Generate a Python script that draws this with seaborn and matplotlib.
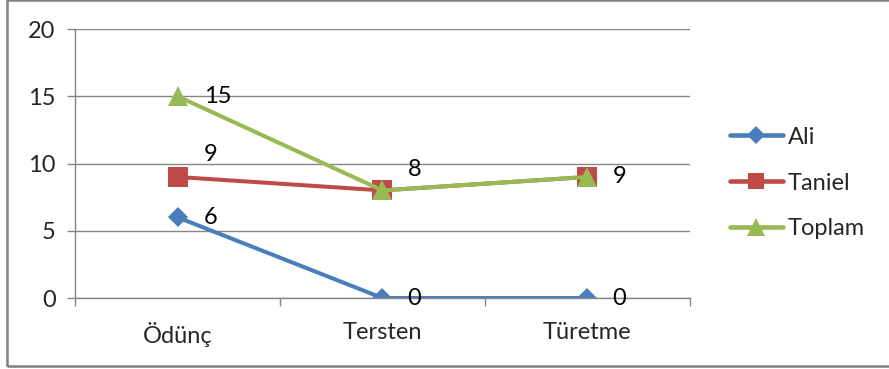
import matplotlib
matplotlib.use("Agg")
import matplotlib.pyplot as plt
import seaborn as sns
import pandas as pd
from matplotlib.lines import Line2D
from matplotlib.patches import Rectangle

categories = ["Ödünç", "Tersten", "Türetme"]
series_names = ["Ali", "Taniel", "Toplam"]
ali = [6, 0, 0]
taniel = [9, 8, 9]
toplam = [15, 8, 9]
y_ticks = [0, 5, 10, 15, 20]

colors = {"Ali": "#4A7EBB", "Taniel": "#BE4B48", "Toplam": "#98B954"}
markers = {"Ali": "D", "Taniel": "s", "Toplam": "^"}
msizes = {"Ali": 10.5, "Taniel": 14, "Toplam": 15}
LW = 2.9

values = {"Ali": ali, "Taniel": taniel, "Toplam": toplam}
df = pd.DataFrame(
    [(name, cat, v) for name in series_names for cat, v in zip(categories, values[name])],
    columns=["seri", "kategori", "deger"],
)

sns.set_theme(style="white")
plt.rcParams["font.family"] = ["Lato", "DejaVu Sans"]
FS = 17

fig = plt.figure(figsize=(8.89, 3.69), dpi=100)
ax = fig.add_axes([0.0844, 0.1924, 0.6916, 0.729])

for name in series_names:
    sub = df[df["seri"] == name]
    sns.lineplot(
        data=sub, x="kategori", y="deger", ax=ax, color=colors[name],
        linewidth=LW, marker=markers[name], markersize=msizes[name],
        markeredgecolor=colors[name], markeredgewidth=0, legend=False, sort=False,
    )

# data labels: offsets in points (dx, dy)
label_offsets = {
    "Ali": [(19, 0), (18, 0), (18, 0)],
    "Taniel": [(19, 16), (18, 15), None],
    "Toplam": [(19, 0), None, (18, 0)],
}
for name in series_names:
    for i, v in enumerate(values[name]):
        off = label_offsets[name][i]
        if off is None:
            continue
        ax.annotate(str(v), (i, v), xytext=off, textcoords="offset points",
                    ha="left", va="center", fontsize=FS, color="black")

ax.set_ylim(0, 20)
ax.set_xlim(-0.5, 2.5)
ax.set_yticks(y_ticks)
ax.set_xticks(range(len(categories)))
ax.set_xticklabels(categories)
ax.set_xticks([-0.5, 0.5, 1.5, 2.5], minor=True)
ax.set_xlabel("")
ax.set_ylabel("")
ax.grid(axis="y", color="#868686", linewidth=1)
ax.grid(axis="x", visible=False)
for side in ["top", "right"]:
    ax.spines[side].set_visible(False)
for side in ["left", "bottom"]:
    ax.spines[side].set_color("#868686")
    ax.spines[side].set_linewidth(1)
ax.tick_params(axis="y", which="major", direction="out", length=6, width=1,
               color="#868686", labelsize=FS, pad=8, left=True)
ax.tick_params(axis="x", which="major", length=0, labelsize=FS, pad=17)
ax.tick_params(axis="x", which="minor", direction="out", length=6, width=1,
               color="#868686", bottom=True)
ax.set_axisbelow(True)

handles = [
    Line2D([0], [0], color=colors[n], linewidth=LW + 0.4, marker=markers[n],
           markersize=msizes[n] * 0.85, markeredgewidth=0)
    for n in series_names
]
fig.legend(handles, series_names, loc="center left", bbox_to_anchor=(0.821, 0.504),
           frameon=False, fontsize=FS, handlelength=2.25, handletextpad=0.2,
           labelspacing=1.05, borderpad=0, borderaxespad=0)

fig.patches.append(Rectangle((0.0079, 0.0081), 1.0, 0.991, transform=fig.transFigure,
                             fill=False, edgecolor="#808080", linewidth=1.8))

fig.savefig("out.png", dpi=100)
